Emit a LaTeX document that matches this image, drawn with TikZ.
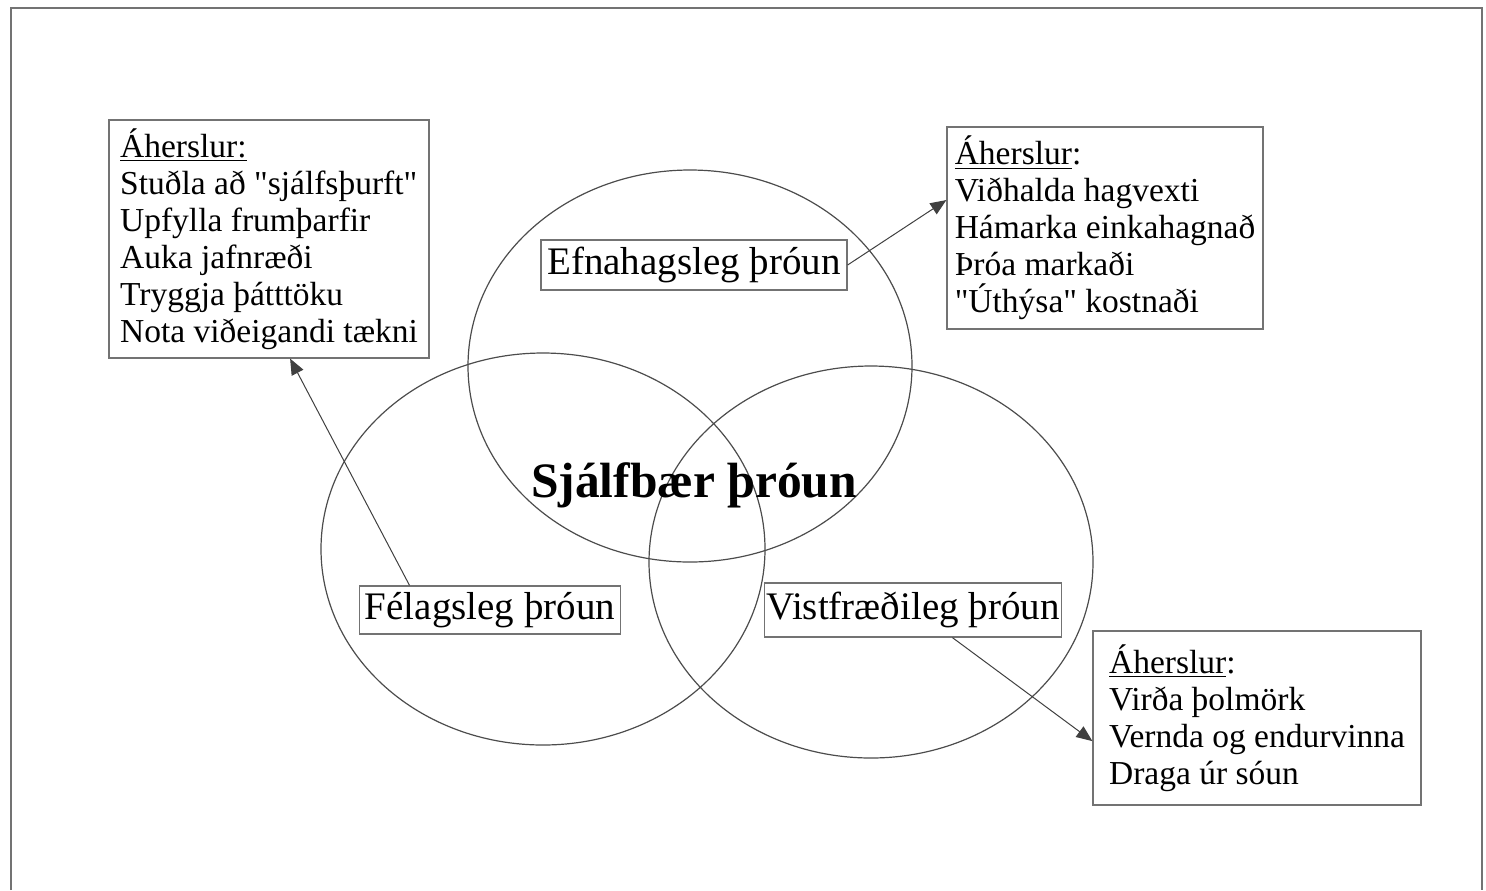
\documentclass[tikz,border=0pt]{standalone}
\usepackage{fontspec}
\setmainfont{Liberation Serif}
\usetikzlibrary{shapes.geometric,arrows.meta}

\begin{document}
\begin{tikzpicture}[x=0.5pt, y=-0.5pt,
    hringur/.style ={ellipse, draw=black!70, line width=0.6pt, minimum width=222pt, minimum height=196pt, inner sep=0pt},
    heiti/.style ={rectangle, draw=black!55, line width=0.6pt, fill=white, inner sep=0pt, font=\fontsize{19.5pt}{22pt}\selectfont},
    aherslur/.style ={rectangle, draw=black!55, line width=0.6pt, inner sep=0pt, align=left, font=\fontsize{16.75pt}{18.5pt}\selectfont},
    pil/.style ={draw=black!75, line width=0.5pt, -{Triangle[length=8pt,width=6.5pt]}}]
   \useasboundingbox (0,0) rectangle (1486,890);
   \draw[black!55, line width=0.6pt] (11,890) -- (11,8) -- (1482,8) -- (1482,890);
   \node[hringur] (E) at (690,366) {};
   \node[hringur] (F) at (543,549) {};
   \node[hringur] (V) at (871,562) {};
   \node[heiti, minimum width=153pt, minimum height=25pt] (Eh) at (694,265) {Efnahagsleg þróun};
   \node[heiti, minimum width=130.5pt, minimum height=24pt] (Fh) at (490,610) {Félagsleg þróun};
   \node[heiti, minimum width=148.5pt, minimum height=27pt] (Vh) at (913,610) {Vistfræðileg þróun};
   \node[font=\fontsize{24.75pt}{28pt}\selectfont\bfseries, anchor=base] (S) at (694,497) {Sjálfbær þróun};
   \node[aherslur, minimum width=160pt, minimum height=119pt] (Fa) at (269,239)
     {\underline{Áherslur:}\\ Stuðla að \textquotedbl sjálfsþurft\textquotedbl\\ Upfylla frumþarfir\\ Auka jafnræði\\ Tryggja þátttöku\\ Nota viðeigandi tækni};
   \node[aherslur, minimum width=158pt, minimum height=101pt] (Ea) at (1105,228)
     {\underline{Áherslur}:\\ Viðhalda hagvexti\\ Hámarka einkahagnað\\ Þróa markaði\\ \textquotedbl Úthýsa\textquotedbl\ kostnaði};
   \node[aherslur, minimum width=164pt, minimum height=87pt] (Va) at (1257,718)
     {\underline{Áherslur}:\\ Virða þolmörk\\ Vernda og endurvinna\\ Draga úr sóun};
   \draw[pil] (Eh.east) to (Ea.170);
   \draw[pil] (Fh.163) to (Fa.-80);
   \draw[pil] (Vh.-35) to (Va.188);
 \end{tikzpicture}
\end{document}
